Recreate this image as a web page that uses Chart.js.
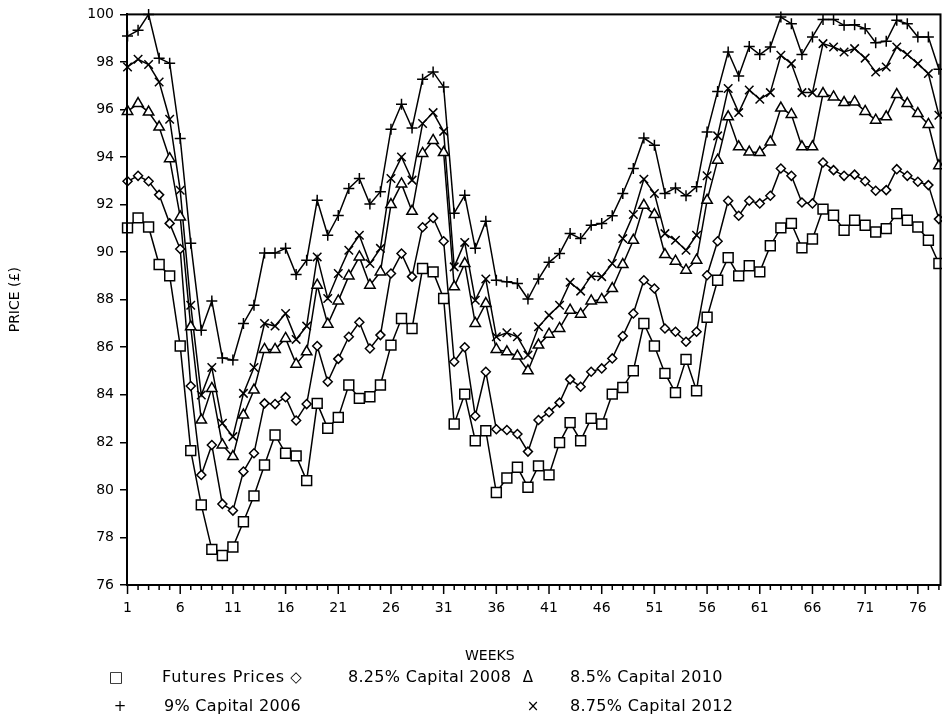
<!DOCTYPE html>
<html>
<head>
<meta charset="utf-8">
<script src="https://cdn.jsdelivr.net/npm/chart.js@4/dist/chart.umd.min.js"></script>
<style>
html,body{margin:0;padding:0;background:#fff;overflow:hidden;}
#wrap{position:relative;width:942px;height:720px;overflow:hidden;font-family:"DejaVu Sans",sans-serif;color:#000;}
#c{position:absolute;left:0;top:0;}
.t{position:absolute;font-size:16px;line-height:18px;white-space:nowrap;letter-spacing:0.3px;}
.m{position:absolute;font-size:15px;line-height:18px;width:20px;text-align:center;}
</style>
</head>
<body>
<div id="wrap">
<canvas id="c" width="942" height="720"></canvas>
<div class="t" style="left:465px;top:646px;font-size:14px;letter-spacing:0;">WEEKS</div>
<div class="m" style="left:106px;top:668px;">□</div>
<div class="t" style="left:162px;top:668px;letter-spacing:0.8px;">Futures Prices</div>
<div class="m" style="left:286px;top:668px;">◇</div>
<div class="t" style="left:348px;top:668px;">8.25% Capital 2008</div>
<div class="m" style="left:518px;top:668px;">Δ</div>
<div class="t" style="left:570px;top:668px;">8.5% Capital 2010</div>
<div class="m" style="left:110px;top:697px;">+</div>
<div class="t" style="left:164px;top:697px;">9% Capital 2006</div>
<div class="m" style="left:523px;top:697px;">×</div>
<div class="t" style="left:570px;top:697px;">8.75% Capital 2012</div>
</div>
<script>
const weeks = [1,2,3,4,5,6,7,8,9,10,11,12,13,14,15,16,17,18,19,20,21,22,23,24,25,26,27,28,29,30,31,32,33,34,35,36,37,38,39,40,41,42,43,44,45,46,47,48,49,50,51,52,53,54,55,56,57,58,59,60,61,62,63,64,65,66,67,68,69,70,71,72,73,74,75,76,77,78];
const xTickLabels = [1,6,11,16,21,26,31,36,41,46,51,56,61,66,71,76];
const yTickLabels = [76,78,80,82,84,86,88,90,92,94,96,98,100];

const futures = [91.02,91.44,91.06,89.48,89.0,86.05,81.65,79.37,77.5,77.24,77.6,78.66,79.75,81.05,82.31,81.54,81.43,80.39,83.64,82.59,83.05,84.41,83.85,83.92,84.41,86.09,87.21,86.79,89.31,89.17,88.05,82.77,84.03,82.07,82.49,79.89,80.5,80.95,80.11,81.01,80.63,81.99,82.83,82.07,83.01,82.77,84.03,84.31,85.01,87.0,86.05,84.9,84.09,85.49,84.17,87.26,88.82,89.77,89.0,89.43,89.17,90.27,91.02,91.21,90.18,90.55,91.81,91.55,90.92,91.34,91.13,90.85,90.99,91.62,91.34,91.06,90.5,89.52];
const cap2008 = [92.98,93.21,92.98,92.41,91.21,90.13,84.37,80.63,81.89,79.41,79.13,80.77,81.54,83.64,83.61,83.9,82.92,83.61,86.05,84.55,85.51,86.44,87.05,85.95,86.51,89.1,89.94,88.97,91.05,91.44,90.46,85.39,86.0,83.11,84.97,82.55,82.52,82.35,81.61,82.94,83.27,83.67,84.65,84.34,84.97,85.11,85.53,86.47,87.42,88.82,88.47,86.79,86.65,86.23,86.65,89.03,90.46,92.16,91.53,92.16,92.05,92.37,93.52,93.21,92.09,92.05,93.77,93.45,93.21,93.26,92.98,92.58,92.61,93.49,93.21,92.96,92.82,91.39];
const cap2010 = [95.92,96.25,95.89,95.26,93.93,91.48,86.86,82.94,84.27,81.89,81.4,83.15,84.2,85.91,85.91,86.37,85.29,85.81,88.61,86.97,87.95,89.0,89.8,88.61,89.17,92.0,92.87,91.72,94.15,94.7,94.19,88.54,89.52,87.0,87.84,85.91,85.81,85.63,85.01,86.09,86.55,86.79,87.56,87.39,87.95,88.01,88.47,89.48,90.5,91.97,91.58,89.9,89.62,89.24,89.66,92.18,93.87,95.69,94.43,94.21,94.19,94.63,96.06,95.79,94.43,94.43,96.67,96.53,96.29,96.32,95.92,95.55,95.69,96.63,96.25,95.83,95.37,93.63];
const cap2006 = [99.09,99.33,100.0,98.16,97.95,94.78,90.37,86.72,87.95,85.55,85.46,87.0,87.77,89.96,89.96,90.16,89.06,89.66,92.18,90.71,91.54,92.68,93.1,92.02,92.54,95.17,96.22,95.22,97.27,97.58,96.95,91.64,92.39,90.16,91.3,88.82,88.75,88.68,88.03,88.87,89.57,89.94,90.78,90.57,91.13,91.2,91.53,92.47,93.52,94.8,94.5,92.47,92.7,92.37,92.75,95.05,96.76,98.42,97.41,98.65,98.31,98.63,99.89,99.61,98.31,99.05,99.79,99.79,99.54,99.56,99.4,98.81,98.87,99.75,99.61,99.05,99.05,97.69];
const cap2012 = [97.79,98.11,97.89,97.16,95.59,92.6,87.77,83.99,85.15,82.8,82.24,84.06,85.15,87.0,86.89,87.42,86.33,86.89,89.8,88.05,89.1,90.08,90.71,89.52,90.16,93.1,94.0,93.03,95.41,95.87,95.08,89.38,90.41,87.98,88.87,86.44,86.61,86.44,85.67,86.86,87.35,87.77,88.73,88.36,89.0,88.97,89.52,90.57,91.58,93.07,92.47,90.78,90.5,90.08,90.71,93.21,94.89,96.88,95.87,96.82,96.43,96.71,98.28,97.93,96.71,96.71,98.77,98.63,98.42,98.56,98.16,97.58,97.79,98.63,98.31,97.93,97.51,95.76];

function series(label, vals, style, r) {
  return {
    label: label,
    data: weeks.map((w, i) => ({x: w, y: vals[i]})),
    borderColor: '#000',
    borderWidth: 1.5,
    pointStyle: style,
    pointRadius: r,
    pointBorderColor: '#000',
    pointBackgroundColor: '#fff',
    pointBorderWidth: 1.5,
    tension: 0,
    fill: false,
    clip: 8
  };
}

const frame = {
  id: 'frame',
  afterDraw(chart) {
    const {ctx, chartArea: a, scales: {x}} = chart;
    ctx.save();
    ctx.strokeStyle = '#000';
    ctx.lineWidth = 2;
    ctx.strokeRect(a.left, a.top, a.right - a.left, a.bottom - a.top);
    ctx.lineWidth = 1.5;
    weeks.forEach(w => {
      const px = x.getPixelForValue(w);
      const len = xTickLabels.includes(w) ? 9 : 5;
      ctx.beginPath();
      ctx.moveTo(px, a.bottom);
      ctx.lineTo(px, a.bottom + len);
      ctx.stroke();
    });
    ctx.restore();
  }
};

function makeConfig() {
  return {
    type: 'line',
    data: {
      datasets: [
        series('Futures Prices', futures, 'rect', 7),
        series('8.25% Capital 2008', cap2008, 'rectRot', 4.5),
        series('8.5% Capital 2010', cap2010, 'triangle', 6),
        series('9% Capital 2006', cap2006, 'cross', 5.5),
        series('8.75% Capital 2012', cap2012, 'crossRot', 6)
      ]
    },
    options: {
      responsive: false,
      maintainAspectRatio: false,
      animation: false,
      layout: {padding: {top: 14, right: 2, left: 0, bottom: 0}},
      plugins: {legend: {display: false}, tooltip: {enabled: false}},
      scales: {
        x: {
          type: 'linear',
          min: 0.95,
          max: 78.15,
          afterBuildTicks: s => { s.ticks = weeks.map(v => ({value: v})); },
          afterFit: s => { s.height = 135; s.paddingRight = 0; s.paddingLeft = 0; },
          grid: {display: true, drawOnChartArea: false, drawTicks: false},
          border: {display: true, color: '#000', width: 2},
          ticks: {
            autoSkip: false,
            maxRotation: 0,
            padding: 15,
            color: '#000',
            font: {family: 'DejaVu Sans', size: 14},
            callback: v => xTickLabels.includes(v) ? String(v) : ''
          }
        },
        y: {
          type: 'linear',
          min: 76,
          max: 100,
          afterBuildTicks: s => { s.ticks = yTickLabels.map(v => ({value: v})); },
          afterFit: s => { s.width = 127; },
          grid: {display: true, drawOnChartArea: false, drawTicks: true, tickLength: 7, color: '#000', lineWidth: 1.5},
          border: {display: true, color: '#000', width: 2},
          ticks: {
            padding: 6,
            color: '#000',
            font: {family: 'DejaVu Sans', size: 14},
            callback: v => String(v)
          },
          title: {
            display: true,
            text: 'PRICE (£)',
            color: '#000',
            font: {family: 'DejaVu Sans', size: 14},
            padding: {top: 7, bottom: 0}
          }
        }
      }
    },
    plugins: [frame]
  };
}

const canvas = document.getElementById('c');
let chart = new Chart(canvas, makeConfig());
// the plot's right edge should sit at x = 940; widen the (clipped) canvas if the layout leaves a gap
const extra = Math.round(940 - chart.chartArea.right);
if (extra !== 0) {
  chart.destroy();
  canvas.width = 942 + extra;
  canvas.height = 720;
  canvas.style.width = (942 + extra) + 'px';
  canvas.style.height = '720px';
  chart = new Chart(canvas, makeConfig());
}
</script>
</body>
</html>
